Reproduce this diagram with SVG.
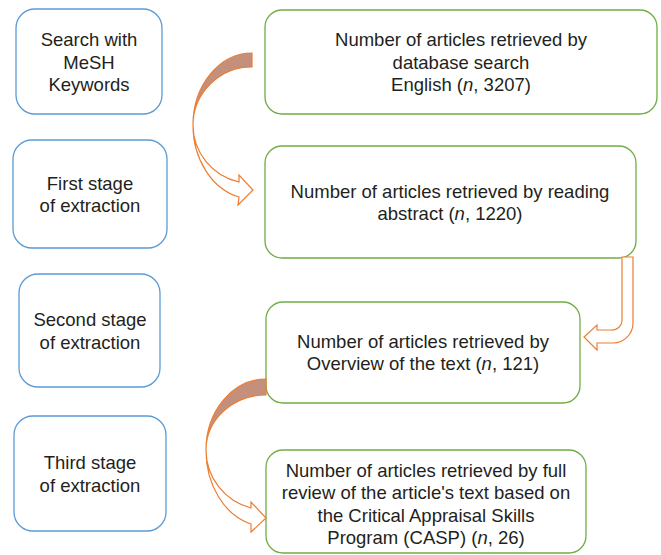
<svg xmlns="http://www.w3.org/2000/svg" width="661" height="555" viewBox="0 0 661 555">
<style>
.bl{fill:#fff;stroke:#5B9BD5;stroke-width:1.3}
.gr{fill:#fff;stroke:#70AD47;stroke-width:1.3}
text{font-family:"Liberation Sans",Arial,sans-serif;font-size:18.5px;fill:#231f20;text-anchor:middle}
.ar{fill:#fff;stroke:#ED7D31;stroke-width:1.2;stroke-linejoin:miter}
.dk{fill:#C4907C;stroke:#ED7D31;stroke-width:1.2}
</style>
<rect width="661" height="555" fill="#fff"/>
<g id="stage0">
<rect class="bl" x="16" y="9" width="146" height="105" rx="19"/>
<text x="89" y="46">Search with</text>
<text x="89" y="68.5">MeSH</text>
<text x="89" y="91">Keywords</text>
</g>
<g id="stage1">
<rect class="bl" x="13" y="140" width="154" height="108" rx="19"/>
<text x="90" y="189.5">First stage</text>
<text x="90" y="212">of extraction</text>
</g>
<g id="stage2">
<rect class="bl" x="19" y="274" width="141" height="113" rx="19"/>
<text x="90" y="326">Second stage</text>
<text x="90" y="348.5">of extraction</text>
</g>
<g id="stage3">
<rect class="bl" x="14" y="416" width="152" height="115" rx="19"/>
<text x="90" y="469">Third stage</text>
<text x="90" y="491.5">of extraction</text>
</g>
<g id="res0">
<rect class="gr" x="265" y="10" width="392" height="104" rx="17"/>
<text x="461" y="46">Number of articles retrieved by</text>
<text x="461" y="68.5">database search</text>
<text x="461" y="91">English (<tspan font-style="italic">n</tspan>, 3207)</text>
</g>
<g id="res1">
<rect class="gr" x="265" y="146" width="371" height="112" rx="17"/>
<text x="450" y="197.5">Number of articles retrieved by reading</text>
<text x="450" y="220">abstract (<tspan font-style="italic">n</tspan>, 1220)</text>
</g>
<g id="res2">
<rect class="gr" x="266" y="302" width="314" height="101" rx="17"/>
<text x="423" y="347.5">Number of articles retrieved by</text>
<text x="423" y="370">Overview of the text (<tspan font-style="italic">n</tspan>, 121)</text>
</g>
<g id="res3">
<rect class="gr" x="266" y="450" width="320" height="103" rx="17"/>
<text x="426" y="476.5">Number of articles retrieved by full</text>
<text x="426" y="499">review of the article's text based on</text>
<text x="426" y="521.5">the Critical Appraisal Skills</text>
<text x="426" y="544">Program (CASP) (<tspan font-style="italic">n</tspan>, 26)</text>
</g>
<g id="connectors">
<path class="dk" d="M252,53 A59,72 0 0 0 193,125 A59,58 0 0 1 252,67 Z"/>
<path class="ar" d="M193,125 A60,74 0 0 0 239,197 L238,205 L253,190 L239,175 L239,182 A60,58.5 0 0 1 193,125 Z"/>
<path class="ar" d="M622,257 L633,257 L633,323 A20,20 0 0 1 613,343 L597,343 L597,350 L584,337 L597,325 L597,330 L611,330 A10,10 0 0 0 622,320 Z"/>
<path class="dk" d="M266,379 A60,71 0 0 0 206,450 A60,55 0 0 1 266,395 Z"/>
<path class="ar" d="M206,450 A60,76 0 0 0 251,524 L251,532 L266,518 L251,502 L251,508 A60,60 0 0 1 206,450 Z"/>
</g>
</svg>
